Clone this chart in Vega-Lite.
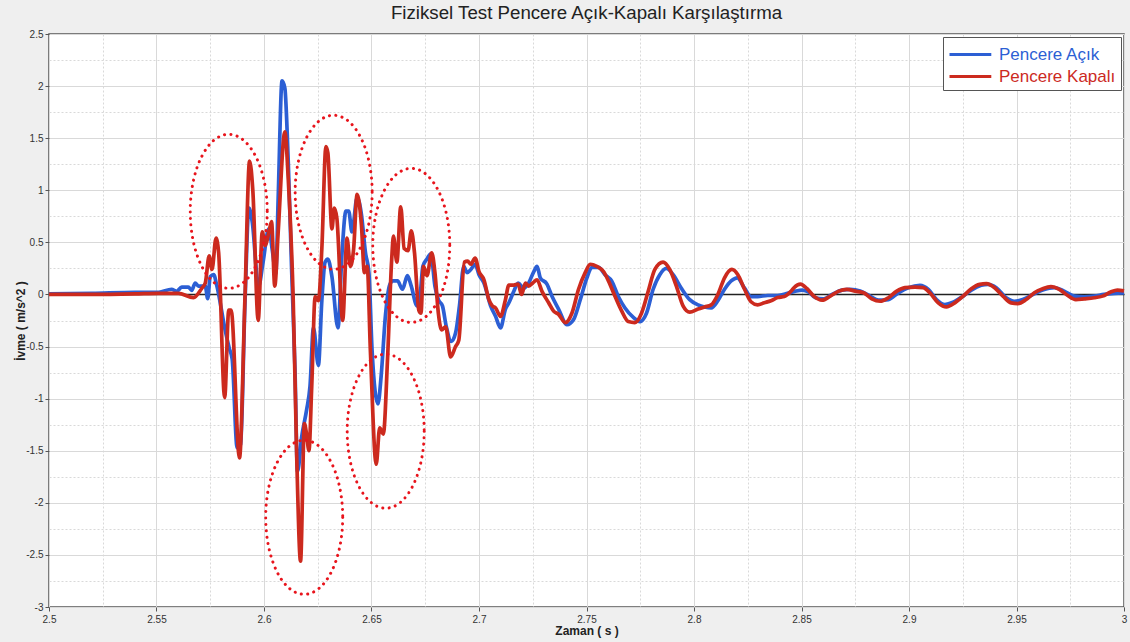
{
  "$schema": "https://vega.github.io/schema/vega-lite/v6.json",
  "autosize": {"type": "none"},
  "padding": {"left": 49, "top": 34, "right": 6, "bottom": 35},
  "width": 1075,
  "height": 573,
  "background": "#efefef",
  "title": {"text": "Fiziksel Test Pencere Açık-Kapalı Karşılaştırma", "fontSize": 18.7, "fontWeight": "normal", "font": "Liberation Sans", "color": "#222", "offset": 6, "anchor": "middle", "frame": "group"},
  "datasets": {
    "acik": [
      {"t":2.5,"v":0.005},{"t":2.52,"v":0.01},{"t":2.54,"v":0.02},{"t":2.551,"v":0.02},{"t":2.557,"v":0.05},{"t":2.5594,"v":0.03},{"t":2.5617,"v":0.07},{"t":2.5648,"v":0.07},{"t":2.5664,"v":0.04},{"t":2.568,"v":0.11},{"t":2.5695,"v":0.08},{"t":2.5727,"v":0.08},{"t":2.5738,"v":-0.04},{"t":2.575,"v":0.17},{"t":2.5766,"v":0.19},{"t":2.5781,"v":0.08},{"t":2.582,"v":-0.35},{"t":2.5839,"v":-0.52},{"t":2.5852,"v":-0.62},{"t":2.5875,"v":-1.47},{"t":2.5891,"v":-1.44},{"t":2.5911,"v":-0.12},{"t":2.593,"v":0.83},{"t":2.5945,"v":0.7},{"t":2.5975,"v":0.08},{"t":2.5995,"v":0.3},{"t":2.6022,"v":0.63},{"t":2.6039,"v":0.42},{"t":2.6055,"v":0.2},{"t":2.6066,"v":0.93},{"t":2.6084,"v":2.05},{"t":2.6097,"v":1.98},{"t":2.6113,"v":1.26},{"t":2.6128,"v":0.27},{"t":2.6144,"v":-0.71},{"t":2.6156,"v":-1.7},{"t":2.6175,"v":-1.37},{"t":2.6198,"v":-1.11},{"t":2.6214,"v":-0.88},{"t":2.623,"v":-0.32},{"t":2.6253,"v":-0.68},{"t":2.6269,"v":-0.06},{"t":2.6284,"v":0.31},{"t":2.6297,"v":0.34},{"t":2.6316,"v":0.17},{"t":2.6344,"v":-0.32},{"t":2.6363,"v":0.4},{"t":2.6381,"v":0.8},{"t":2.6394,"v":0.8},{"t":2.6409,"v":0.6},{"t":2.6433,"v":0.93},{"t":2.6453,"v":0.77},{"t":2.6472,"v":0.4},{"t":2.6488,"v":0.21},{"t":2.6503,"v":-0.55},{"t":2.653,"v":-1.05},{"t":2.6545,"v":-0.78},{"t":2.6565,"v":-0.2},{"t":2.6583,"v":0.08},{"t":2.6598,"v":0.13},{"t":2.6621,"v":0.13},{"t":2.6644,"v":0.05},{"t":2.6667,"v":0.18},{"t":2.6685,"v":0.08},{"t":2.6712,"v":-0.11},{"t":2.6724,"v":-0.05},{"t":2.6739,"v":0.27},{"t":2.6758,"v":0.34},{"t":2.6776,"v":0.39},{"t":2.6795,"v":0.08},{"t":2.6811,"v":-0.05},{"t":2.683,"v":-0.11},{"t":2.6848,"v":-0.31},{"t":2.6871,"v":-0.45},{"t":2.6891,"v":-0.37},{"t":2.6909,"v":-0.11},{"t":2.6929,"v":0.27},{"t":2.6944,"v":0.21},{"t":2.6962,"v":0.24},{"t":2.6982,"v":0.29},{"t":2.7,"v":0.19},{"t":2.7023,"v":0.11},{"t":2.7054,"v":-0.11},{"t":2.7077,"v":-0.21},{"t":2.71,"v":-0.32},{"t":2.7123,"v":-0.14},{"t":2.7139,"v":-0.08},{"t":2.7162,"v":0.03},{"t":2.7182,"v":0.11},{"t":2.7208,"v":0.06},{"t":2.7231,"v":0.11},{"t":2.7255,"v":0.22},{"t":2.727,"v":0.27},{"t":2.7285,"v":0.16},{"t":2.7316,"v":0.1},{"t":2.734,"v":-0.02},{"t":2.737,"v":-0.14},{"t":2.7409,"v":-0.29},{"t":2.744,"v":-0.24},{"t":2.7471,"v":-0.05},{"t":2.7502,"v":0.16},{"t":2.7525,"v":0.26},{"t":2.7556,"v":0.26},{"t":2.7586,"v":0.19},{"t":2.7617,"v":0.13},{"t":2.7648,"v":-0.02},{"t":2.7679,"v":-0.13},{"t":2.7718,"v":-0.22},{"t":2.7748,"v":-0.26},{"t":2.7779,"v":-0.18},{"t":2.781,"v":0.05},{"t":2.7841,"v":0.19},{"t":2.7872,"v":0.25},{"t":2.7903,"v":0.19},{"t":2.7941,"v":0.06},{"t":2.798,"v":-0.05},{"t":2.8019,"v":-0.1},{"t":2.8049,"v":-0.12},{"t":2.808,"v":-0.13},{"t":2.8111,"v":-0.06},{"t":2.8142,"v":0.05},{"t":2.8173,"v":0.13},{"t":2.8201,"v":0.16},{"t":2.8235,"v":0.06},{"t":2.8265,"v":-0.02},{"t":2.8296,"v":-0.02},{"t":2.8343,"v":-0.01},{"t":2.8389,"v":-0.01},{"t":2.8435,"v":0.01},{"t":2.8472,"v":0.032},{"t":2.8503,"v":0.042},{"t":2.8534,"v":0.023},{"t":2.8565,"v":-0.032},{"t":2.8603,"v":-0.042},{"t":2.8642,"v":0},{"t":2.8688,"v":0.042},{"t":2.8727,"v":0.049},{"t":2.8773,"v":0.032},{"t":2.8819,"v":-0.016},{"t":2.8858,"v":-0.055},{"t":2.8904,"v":-0.049},{"t":2.8951,"v":0.016},{"t":2.8997,"v":0.065},{"t":2.9051,"v":0.088},{"t":2.909,"v":0.049},{"t":2.9128,"v":-0.049},{"t":2.9167,"v":-0.097},{"t":2.9205,"v":-0.075},{"t":2.9252,"v":-0.016},{"t":2.929,"v":0.042},{"t":2.9336,"v":0.088},{"t":2.9367,"v":0.097},{"t":2.9406,"v":0.065},{"t":2.9452,"v":-0.032},{"t":2.9491,"v":-0.065},{"t":2.9529,"v":-0.049},{"t":2.9576,"v":0},{"t":2.9622,"v":0.042},{"t":2.9676,"v":0.065},{"t":2.9722,"v":0.032},{"t":2.9769,"v":-0.016},{"t":2.9815,"v":-0.023},{"t":2.9861,"v":-0.016},{"t":2.9907,"v":0},{"t":2.9954,"v":0.01},{"t":3.0,"v":0.015}
    ],
    "kapali": [
      {"t":2.5,"v":0},{"t":2.52,"v":0},{"t":2.54,"v":0.005},{"t":2.551,"v":0.01},{"t":2.5602,"v":0.01},{"t":2.5672,"v":-0.03},{"t":2.5711,"v":0.06},{"t":2.5727,"v":0.11},{"t":2.5745,"v":0.37},{"t":2.5758,"v":0.24},{"t":2.5777,"v":0.54},{"t":2.5789,"v":0.4},{"t":2.5817,"v":-0.99},{"t":2.5836,"v":-0.15},{"t":2.5847,"v":-0.15},{"t":2.5886,"v":-1.57},{"t":2.5911,"v":-0.06},{"t":2.5933,"v":1.28},{"t":2.5948,"v":1.0},{"t":2.5973,"v":-0.25},{"t":2.5992,"v":0.6},{"t":2.6005,"v":0.47},{"t":2.6023,"v":0.6},{"t":2.6035,"v":0.7},{"t":2.605,"v":0.08},{"t":2.6066,"v":0.6},{"t":2.6097,"v":1.56},{"t":2.6113,"v":1.1},{"t":2.6136,"v":-0.06},{"t":2.6152,"v":-1.54},{"t":2.617,"v":-2.56},{"t":2.6188,"v":-1.24},{"t":2.6198,"v":-1.34},{"t":2.6209,"v":-1.5},{"t":2.6222,"v":-0.88},{"t":2.6238,"v":-0.02},{"t":2.6253,"v":-0.06},{"t":2.6269,"v":0.44},{"t":2.6288,"v":1.42},{"t":2.6297,"v":1.36},{"t":2.6316,"v":0.63},{"t":2.6327,"v":0.83},{"t":2.6339,"v":0.73},{"t":2.6366,"v":-0.25},{"t":2.6386,"v":0.54},{"t":2.6402,"v":0.27},{"t":2.6417,"v":0.44},{"t":2.6433,"v":0.96},{"t":2.6453,"v":0.67},{"t":2.6467,"v":0.21},{"t":2.648,"v":0.27},{"t":2.6495,"v":-0.55},{"t":2.6522,"v":-1.63},{"t":2.6538,"v":-1.28},{"t":2.6555,"v":-1.34},{"t":2.6575,"v":-0.6},{"t":2.6594,"v":0.34},{"t":2.6602,"v":0.56},{"t":2.6618,"v":0.31},{"t":2.6636,"v":0.84},{"t":2.6652,"v":0.44},{"t":2.667,"v":0.42},{"t":2.6685,"v":0.61},{"t":2.67,"v":0.4},{"t":2.672,"v":-0.15},{"t":2.673,"v":-0.18},{"t":2.6742,"v":0.27},{"t":2.6758,"v":0.18},{"t":2.678,"v":0.4},{"t":2.6795,"v":0.21},{"t":2.6811,"v":-0.18},{"t":2.6826,"v":-0.34},{"t":2.6845,"v":-0.31},{"t":2.6868,"v":-0.6},{"t":2.6891,"v":-0.5},{"t":2.6906,"v":-0.44},{"t":2.6932,"v":0.31},{"t":2.6947,"v":0.32},{"t":2.6962,"v":0.29},{"t":2.6982,"v":0.35},{"t":2.7,"v":0.22},{"t":2.7023,"v":0.14},{"t":2.7046,"v":-0.05},{"t":2.7062,"v":-0.11},{"t":2.7077,"v":-0.13},{"t":2.71,"v":-0.21},{"t":2.7123,"v":-0.05},{"t":2.7139,"v":0.09},{"t":2.7162,"v":0.09},{"t":2.7182,"v":0.1},{"t":2.7198,"v":0.0},{"t":2.7216,"v":0.11},{"t":2.7231,"v":0.08},{"t":2.725,"v":0.11},{"t":2.727,"v":0.14},{"t":2.7293,"v":0.03},{"t":2.7324,"v":-0.08},{"t":2.7347,"v":-0.16},{"t":2.737,"v":-0.19},{"t":2.7401,"v":-0.27},{"t":2.7432,"v":-0.18},{"t":2.7463,"v":0.05},{"t":2.7494,"v":0.21},{"t":2.7517,"v":0.29},{"t":2.7548,"v":0.27},{"t":2.7579,"v":0.22},{"t":2.7602,"v":0.13},{"t":2.7633,"v":-0.02},{"t":2.7664,"v":-0.16},{"t":2.7694,"v":-0.26},{"t":2.7725,"v":-0.27},{"t":2.7756,"v":-0.18},{"t":2.7787,"v":0.03},{"t":2.7818,"v":0.24},{"t":2.7856,"v":0.31},{"t":2.7887,"v":0.24},{"t":2.7918,"v":0.08},{"t":2.7949,"v":-0.11},{"t":2.798,"v":-0.17},{"t":2.8019,"v":-0.14},{"t":2.8049,"v":-0.12},{"t":2.808,"v":-0.1},{"t":2.8111,"v":0.0},{"t":2.8142,"v":0.16},{"t":2.8176,"v":0.24},{"t":2.8204,"v":0.19},{"t":2.8235,"v":0.05},{"t":2.8265,"v":-0.07},{"t":2.8296,"v":-0.1},{"t":2.8327,"v":-0.08},{"t":2.8358,"v":-0.06},{"t":2.8389,"v":-0.03},{"t":2.842,"v":-0.02},{"t":2.8451,"v":0.03},{"t":2.8465,"v":0.065},{"t":2.8495,"v":0.1},{"t":2.8526,"v":0.055},{"t":2.8557,"v":-0.016},{"t":2.8596,"v":-0.055},{"t":2.8634,"v":-0.016},{"t":2.8673,"v":0.032},{"t":2.8711,"v":0.049},{"t":2.875,"v":0.032},{"t":2.8789,"v":0.016},{"t":2.8827,"v":-0.042},{"t":2.8866,"v":-0.065},{"t":2.8904,"v":-0.032},{"t":2.8943,"v":0.032},{"t":2.8981,"v":0.065},{"t":2.9028,"v":0.071},{"t":2.9066,"v":0.065},{"t":2.9097,"v":0.016},{"t":2.9136,"v":-0.081},{"t":2.9174,"v":-0.12},{"t":2.9213,"v":-0.081},{"t":2.9252,"v":-0.016},{"t":2.929,"v":0.055},{"t":2.9329,"v":0.097},{"t":2.936,"v":0.104},{"t":2.9398,"v":0.065},{"t":2.9437,"v":-0.016},{"t":2.9475,"v":-0.081},{"t":2.9506,"v":-0.088},{"t":2.9545,"v":-0.049},{"t":2.9583,"v":0.016},{"t":2.9622,"v":0.055},{"t":2.966,"v":0.075},{"t":2.9699,"v":0.049},{"t":2.9738,"v":-0.01},{"t":2.9776,"v":-0.049},{"t":2.9815,"v":-0.042},{"t":2.9861,"v":-0.032},{"t":2.99,"v":-0.016},{"t":2.9938,"v":0.023},{"t":2.9969,"v":0.042},{"t":3.0,"v":0.035}
    ],
    "halkalar": [
      {"t":2.5836,"v":0.798},{"t":2.6324,"v":0.981},{"t":2.6685,"v":0.471},{"t":2.6187,"v":-2.139},{"t":2.6566,"v":-1.3125}
    ]
  },
  "encoding": {
    "x": {
      "field": "t", "type": "quantitative",
      "scale": {"domain": [2.5, 3], "nice": false, "zero": false},
      "axis": {
        "title": "Zaman ( s )",
        "values": [2.5,2.525,2.55,2.575,2.6,2.625,2.65,2.675,2.7,2.725,2.75,2.775,2.8,2.825,2.85,2.875,2.9,2.925,2.95,2.975,3],
        "labelExpr": "round(datum.value*1000)%50===0 ? format(datum.value,'.2~f') : ''",
        "gridDash": {"condition": {"test": "round(datum.value*1000)%50!==0", "value": [2, 2]}, "value": []},
        "tickOpacity": {"condition": {"test": "round(datum.value*1000)%50!==0", "value": 0}, "value": 1},
        "labelFlush": false
      }
    },
    "y": {
      "field": "v", "type": "quantitative",
      "scale": {"domain": [-3, 2.5], "nice": false, "zero": false},
      "axis": {
        "title": "İvme ( m/s^2 )",
        "values": [-3,-2.75,-2.5,-2.25,-2,-1.75,-1.5,-1.25,-1,-0.75,-0.5,-0.25,0,0.25,0.5,0.75,1,1.25,1.5,1.75,2,2.25,2.5],
        "labelExpr": "round(datum.value*100)%50===0 ? replace(format(datum.value,'~g'),'\u2212','-') : ''",
        "gridDash": {"condition": {"test": "round(datum.value*100)%50!==0", "value": [2, 2]}, "value": []},
        "gridColor": {"condition": {"test": "datum.value===0", "value": "#222"}, "value": "#d9d9d9"},
        "gridWidth": {"condition": {"test": "datum.value===0", "value": 1.3}, "value": 1},
        "tickOpacity": {"condition": {"test": "round(datum.value*100)%50!==0", "value": 0}, "value": 1},
        "labelFlush": false
      }
    }
  },
  "layer": [
    {
      "data": {"name": "acik"},
      "mark": {"type": "line", "strokeWidth": 3.7, "interpolate": "monotone", "strokeJoin": "round"},
      "encoding": {"color": {"datum": "Pencere Açık", "type": "nominal", "legend": {"encode": {"labels": {"update": {"fill": {"signal": "datum.value === 'Pencere Açık' ? '#2c5fd4' : '#cc2a1e'"}}}}}}}
    },
    {
      "data": {"name": "kapali"},
      "mark": {"type": "line", "strokeWidth": 3.7, "interpolate": "monotone", "strokeJoin": "round"},
      "encoding": {"color": {"datum": "Pencere Kapalı", "type": "nominal"}}
    },
    {
      "data": {"name": "halkalar"},
      "mark": {
        "type": "point",
        "shape": "M 38.5 0 C 38.5 42.53 21.26 77 0 77 C -21.26 77 -38.5 42.53 -38.5 0 C -38.5 -42.53 -21.26 -77 0 -77 C 21.26 -77 38.5 -42.53 38.5 0 Z",
        "size": 4,
        "filled": false,
        "opacity": 1,
        "stroke": "#e8141c",
        "strokeWidth": 3,
        "strokeDash": [0.1, 6.3],
        "strokeCap": "round"
      }
    }
  ],
  "resolve": {"scale": {"color": "shared"}},
  "config": {
    "view": {"fill": "white", "stroke": "#555", "strokeWidth": 1.5},
    "range": {"category": ["#2c5fd4", "#cc2a1e"]},
    "axis": {
      "domain": false,
      "grid": true,
      "gridColor": "#d9d9d9",
      "tickColor": "#555",
      "tickSize": 4,
      "labelFont": "Liberation Sans Narrow, Liberation Sans",
      "labelFontSize": 10,
      "labelColor": "#333",
      "titleFont": "Liberation Sans",
      "titleFontSize": 12,
      "titleFontWeight": "bold",
      "titleColor": "#222"
    },
    "axisX": {"labelPadding": 3, "titlePadding": 1},
    "axisY": {"labelPadding": 2, "titlePadding": -2},
    "legend": {
      "title": null,
      "orient": "top-right",
      "offset": 3,
      "padding": 5,
      "strokeColor": "#555",
      "fillColor": "white",
      "symbolType": "M -1 0 L 2.8 0",
      "symbolSize": 484,
      "symbolStrokeWidth": 3,
      "labelFont": "Liberation Sans",
      "labelFontSize": 17,
      "labelOffset": 26,
      "rowPadding": 1,
      "labelLimit": 300,
      "cornerRadius": 0
    }
  }
}
